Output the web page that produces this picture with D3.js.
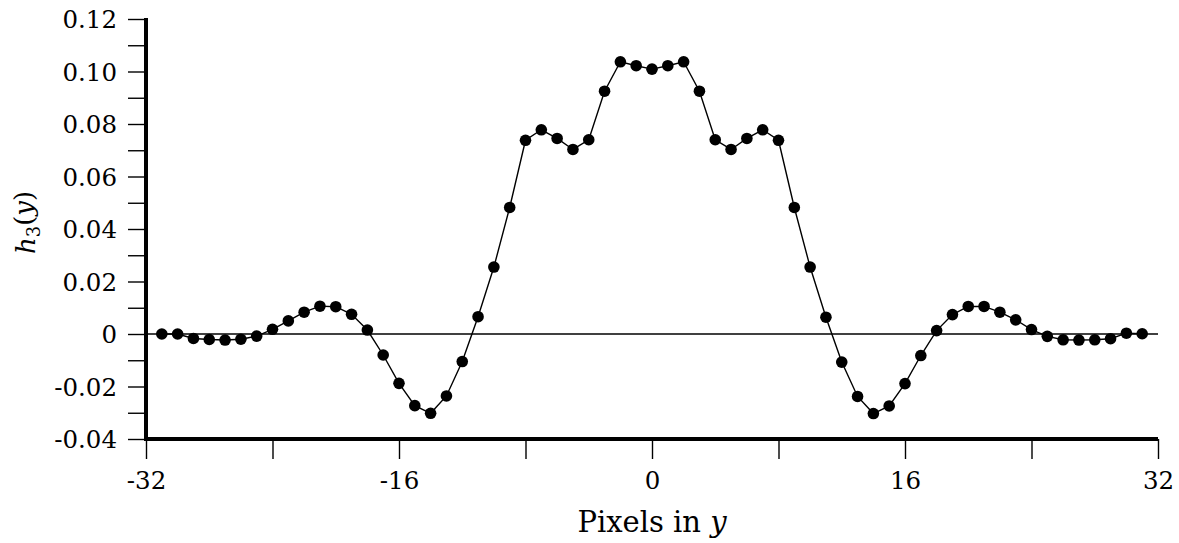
<!DOCTYPE html>
<html>
<head>
<meta charset="utf-8">
<script src="https://cdn.jsdelivr.net/npm/d3@7"></script>
<style>
  body { margin: 0; background: #fff; }
  svg text { font-family: "DejaVu Serif", "Liberation Serif", serif; fill: #000; }
</style>
</head>
<body>
<div id="chart"></div>
<script>
// pixel offsets along y and the filter value h3(y) at each one
var pixels = [-31, -30, -29, -28, -27, -26, -25, -24, -23, -22, -21, -20, -19, -18, -17, -16,
              -15, -14, -13, -12, -11, -10, -9, -8, -7, -6, -5, -4, -3, -2, -1, 0,
              1, 2, 3, 4, 5, 6, 7, 8, 9, 10, 11, 12, 13, 14, 15, 16,
              17, 18, 19, 20, 21, 22, 23, 24, 25, 26, 27, 28, 29, 30, 31];
var h3 = [0.0000, 0.0000, -0.0017, -0.0021, -0.0023, -0.0020, -0.0008, 0.0018, 0.0050, 0.0083, 0.0106, 0.0104, 0.0075, 0.0015, -0.0080, -0.0188,
          -0.0273, -0.0302, -0.0236, -0.0105, 0.0066, 0.0255, 0.0482, 0.0738, 0.0778, 0.0745, 0.0703, 0.0740, 0.0925, 0.1037, 0.1022, 0.1009,
          0.1022, 0.1037, 0.0925, 0.0740, 0.0703, 0.0745, 0.0778, 0.0738, 0.0482, 0.0255, 0.0064, -0.0107, -0.0238, -0.0303, -0.0274, -0.0189,
          -0.0082, 0.0013, 0.0074, 0.0105, 0.0105, 0.0083, 0.0054, 0.0017, -0.0009, -0.0022, -0.0023, -0.0022, -0.0018, 0.0003, 0.0001];

var xTicks = [-32, -24, -16, -8, 0, 8, 16, 24, 32];
var xLabels = [-32, -16, 0, 16, 32];
var yTicks = [-0.04, -0.03, -0.02, -0.01, 0, 0.01, 0.02, 0.03, 0.04, 0.05, 0.06, 0.07, 0.08, 0.09, 0.10, 0.11, 0.12];
var yLabels = ["-0.04", "-0.02", "0", "0.02", "0.04", "0.06", "0.08", "0.10", "0.12"];

var W = 1179, H = 543;
var margin = {top: 19, right: 21, bottom: 104, left: 146},
    width = W - margin.left - margin.right,
    height = H - margin.top - margin.bottom;

var data = pixels.map(function(p, i) { return {x: p, y: h3[i]}; });

var svg = d3.select("#chart").append("svg")
    .attr("width", W)
    .attr("height", H);

var g = svg.append("g")
    .attr("transform", "translate(" + margin.left + "," + margin.top + ")");

var x = d3.scaleLinear().domain([-32, 32]).range([0, width]);
var y = d3.scaleLinear().domain([-0.04, 0.12]).range([height, 0]);

// y axis: ticks every 0.01, labels every 0.02
var yAxis = g.append("g")
    .call(d3.axisLeft(y)
        .tickValues(yTicks)
        .tickSize(18)
        .tickPadding(11)
        .tickFormat(function(d) {
            if (Math.abs(d) < 1e-9) return "0";
            var s = d.toFixed(2);
            return yLabels.indexOf(s) >= 0 ? s : "";
        }));
yAxis.select(".domain").remove();
yAxis.selectAll(".tick line").attr("stroke", "#000").attr("stroke-width", 1.4);
yAxis.selectAll(".tick text").style("font-size", "24.5px").attr("dy", "0.36em");

// x axis
var xAxis = g.append("g")
    .attr("transform", "translate(0," + height + ")")
    .call(d3.axisBottom(x)
        .tickValues(xTicks)
        .tickSize(20)
        .tickPadding(13)
        .tickFormat(function(d) { return xLabels.indexOf(d) >= 0 ? d : ""; }));
xAxis.select(".domain").remove();
xAxis.selectAll(".tick line").attr("stroke", "#000").attr("stroke-width", 1.4);
xAxis.selectAll(".tick text").style("font-size", "24.5px");

// heavy frame lines
g.append("line")
    .attr("x1", 0).attr("x2", 0)
    .attr("y1", y(0.12) - 1).attr("y2", height + 2)
    .attr("stroke", "#000").attr("stroke-width", 4);
g.append("line")
    .attr("x1", 0).attr("x2", width)
    .attr("y1", height).attr("y2", height)
    .attr("stroke", "#000").attr("stroke-width", 4);

// zero line
g.append("line")
    .attr("x1", 0).attr("x2", width)
    .attr("y1", y(0)).attr("y2", y(0))
    .attr("stroke", "#000").attr("stroke-width", 1.4);

// curve + dots
var line = d3.line()
    .x(function(d) { return x(d.x); })
    .y(function(d) { return y(d.y); });

g.append("path")
    .datum(data)
    .attr("fill", "none")
    .attr("stroke", "#000")
    .attr("stroke-width", 1.4)
    .attr("d", line);

g.selectAll(".dot")
    .data(data)
    .enter().append("circle")
    .attr("class", "dot")
    .attr("cx", function(d) { return x(d.x); })
    .attr("cy", function(d) { return y(d.y); })
    .attr("r", 5.8)
    .attr("fill", "#000");

// axis titles
svg.append("text")
    .attr("x", margin.left + x(0))
    .attr("y", 532)
    .attr("text-anchor", "middle")
    .style("font-size", "29px")
    .text("Pixels in ")
    .append("tspan")
    .style("font-style", "italic")
    .text("y");

var yt = svg.append("text")
    .attr("transform", "translate(35," + (margin.top + y(0.0425)) + ") rotate(-90)")
    .attr("text-anchor", "middle")
    .style("font-size", "26px");
yt.append("tspan").style("font-style", "italic").text("h");
yt.append("tspan").attr("dy", "0.3em").style("font-size", "18px").text("3");
yt.append("tspan").attr("dy", "-0.3em").text("(");
yt.append("tspan").style("font-style", "italic").text("y");
yt.append("tspan").text(")");
</script>
</body>
</html>
